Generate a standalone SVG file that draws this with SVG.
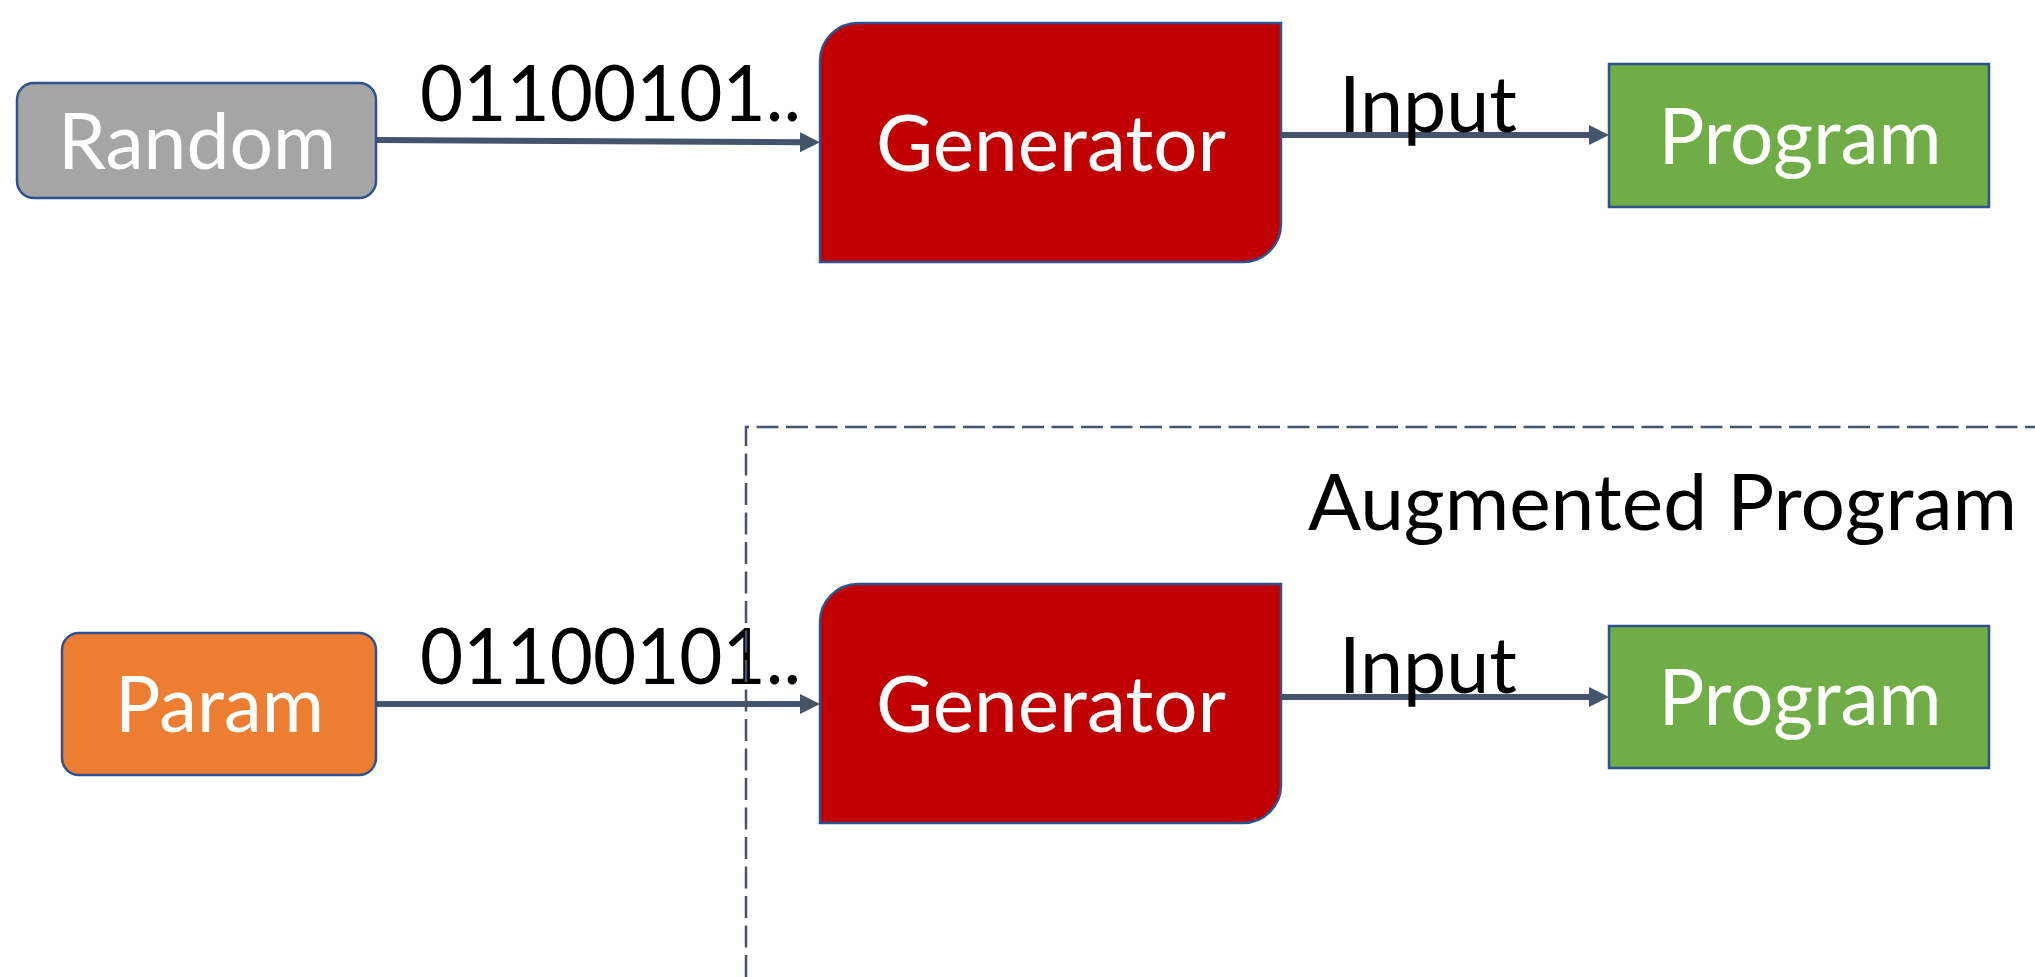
<svg xmlns="http://www.w3.org/2000/svg" width="2035" height="977" viewBox="0 0 2035 977">
<defs>
<style>
.box{stroke:#2F528F;stroke-width:2.5}
.t{font-family:Lato,"Open Sans","Liberation Sans",sans-serif;font-size:78px;text-anchor:middle}
.w{fill:#FFFFFF}
.k{fill:#000000}
.c{fill:none;stroke:#44546A;stroke-width:6}
.dash{fill:none;stroke:#44546A;stroke-width:2.5;stroke-dasharray:22 7.5}
</style>
<marker id="ah" markerUnits="userSpaceOnUse" viewBox="0 0 20 20" refX="8" refY="10" markerWidth="20" markerHeight="20" orient="auto">
<path d="M0,0 L20,10 L0,20 Z" fill="#44546A"/>
</marker>
</defs>
<rect width="2035" height="977" fill="#FFFFFF"/>

<g id="connectors">
<path class="c" d="M376,140 L808,142.3" marker-end="url(#ah)"/>
<path class="c" d="M1281,135 L1597,135" marker-end="url(#ah)"/>
<path class="c" d="M376,704 L808,704" marker-end="url(#ah)"/>
<path class="c" d="M1281,697 L1597,697" marker-end="url(#ah)"/>
</g>

<g id="label-bits-1"><text class="t k" x="610.5" y="121" textLength="381" lengthAdjust="spacingAndGlyphs">01100101..</text></g>
<g id="label-input-1"><text class="t k" x="1428" y="132" textLength="178" lengthAdjust="spacingAndGlyphs">Input</text></g>
<g id="label-bits-2"><text class="t k" x="610.5" y="684" textLength="381" lengthAdjust="spacingAndGlyphs">01100101..</text></g>
<g id="label-input-2"><text class="t k" x="1428" y="693" textLength="178" lengthAdjust="spacingAndGlyphs">Input</text></g>

<g id="augmented-program">
<path class="dash" d="M746,977 V427 H2035"/>
<text class="t k" x="1662.5" y="530" textLength="709" lengthAdjust="spacingAndGlyphs">Augmented Program</text>
</g>

<g id="random">
<rect class="box" x="17" y="83" width="359" height="115" rx="17" ry="17" fill="#A5A5A5"/>
<text class="t w" x="197" y="169" textLength="278" lengthAdjust="spacingAndGlyphs">Random</text>
</g>

<g id="generator-1">
<path class="box" d="M858,23 H1281 V224 A38,38 0 0 1 1243,262 H820 V61 A38,38 0 0 1 858,23 Z" fill="#C00000"/>
<text class="t w" x="1051" y="171" textLength="350" lengthAdjust="spacingAndGlyphs">Generator</text>
</g>

<g id="program-1">
<rect class="box" x="1609" y="64" width="380" height="143" fill="#70AD47"/>
<text class="t w" x="1800" y="164" textLength="283" lengthAdjust="spacingAndGlyphs">Program</text>
</g>

<g id="param">
<rect class="box" x="62" y="633" width="314" height="142" rx="17" ry="17" fill="#ED7D31"/>
<text class="t w" x="219.5" y="732" textLength="209" lengthAdjust="spacingAndGlyphs">Param</text>
</g>

<g id="generator-2">
<path class="box" d="M858,584 H1281 V785 A38,38 0 0 1 1243,823 H820 V622 A38,38 0 0 1 858,584 Z" fill="#C00000"/>
<text class="t w" x="1051" y="732" textLength="350" lengthAdjust="spacingAndGlyphs">Generator</text>
</g>

<g id="program-2">
<rect class="box" x="1609" y="626" width="380" height="142" fill="#70AD47"/>
<text class="t w" x="1800" y="725" textLength="283" lengthAdjust="spacingAndGlyphs">Program</text>
</g>
</svg>
